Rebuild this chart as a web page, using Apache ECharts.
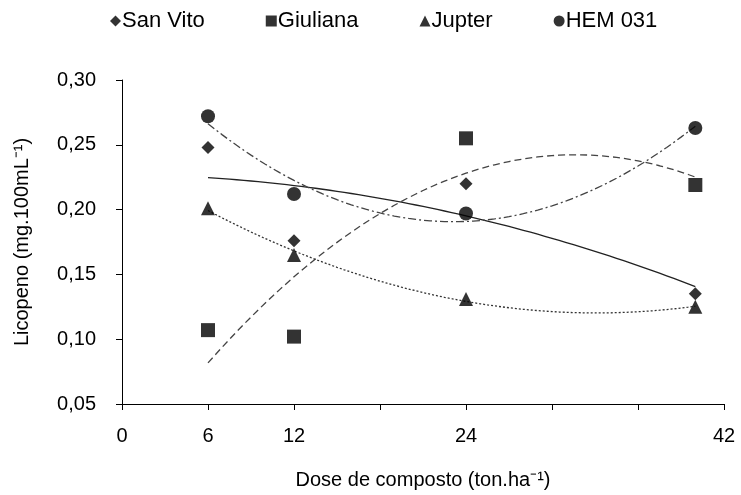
<!DOCTYPE html>
<html>
<head>
<meta charset="utf-8">
<script src="https://cdn.jsdelivr.net/npm/echarts@6/dist/echarts.min.js"></script>
<style>
  html, body { margin: 0; padding: 0; background: #fff; }
  #chart { width: 741px; height: 495px; }
</style>
</head>
<body>
<div id="chart"></div>
<script>
// Compost dose (ton/ha) and lycopene content per cultivar
const doses = [6, 12, 24, 40];
const sanVito = [0.248, 0.176, 0.220, 0.135];
const giuliana = [0.107, 0.102, 0.255, 0.219];
const jupter = [0.201, 0.165, 0.131, 0.125];
const hem031 = [0.272, 0.212, 0.197, 0.263];
const xTickLabels = [0, 6, 12, 24, 42];

// Second-order least-squares trend fitted to each cultivar's points
function quadFit(xs, ys) {
  let n = xs.length, s1 = 0, s2 = 0, s3 = 0, s4 = 0, t0 = 0, t1 = 0, t2 = 0;
  for (let i = 0; i < n; i++) {
    const x = xs[i], y = ys[i];
    s1 += x; s2 += x * x; s3 += x * x * x; s4 += x * x * x * x;
    t0 += y; t1 += x * y; t2 += x * x * y;
  }
  const A = [[n, s1, s2, t0], [s1, s2, s3, t1], [s2, s3, s4, t2]];
  for (let c = 0; c < 3; c++) {
    for (let r = c + 1; r < 3; r++) {
      const f = A[r][c] / A[c][c];
      for (let k = c; k < 4; k++) A[r][k] -= f * A[c][k];
    }
  }
  const coef = [0, 0, 0];
  for (let r = 2; r >= 0; r--) {
    let s = A[r][3];
    for (let k = r + 1; k < 3; k++) s -= A[r][k] * coef[k];
    coef[r] = s / A[r][r];
  }
  return coef;
}
function trend(ys) {
  const c = quadFit(doses, ys);
  const pts = [];
  const x0 = doses[0], x1 = doses[doses.length - 1];
  for (let x = x0; x <= x1 + 1e-9; x += 0.5) pts.push([x, c[0] + c[1] * x + c[2] * x * x]);
  return pts;
}
const pairs = ys => doses.map((d, i) => [d, ys[i]]);

const font = 'Liberation Sans, Arial, sans-serif';
const chart = echarts.init(document.getElementById('chart'), null, { renderer: 'canvas' });

function markSeries(name, ys, symbol, size) {
  return {
    name, type: 'scatter', data: pairs(ys), symbol, symbolSize: size,
    itemStyle: { color: '#000' }, z: 5
  };
}
function trendSeries(ys, dash, color) {
  return {
    type: 'line', data: trend(ys), showSymbol: false, symbol: 'none', silent: true,
    lineStyle: { color, width: 1.3, type: dash }, z: 3
  };
}

chart.setOption({
  animation: false,
  backgroundColor: '#fff',
  textStyle: { fontFamily: font, color: '#000' },
  legend: {
    data: ['San Vito', 'Giuliana', 'Jupter', 'HEM 031'],
    left: 105, top: 5,
    itemWidth: 11, itemHeight: 11, itemGap: 61,
    textStyle: { fontSize: 22, color: '#000', fontFamily: font, padding: [0, 0, 0, -4] }
  },
  grid: { left: 122, right: 17, top: 80, bottom: 90 },
  xAxis: {
    type: 'value', min: 0, max: 42, interval: 6,
    name: 'Dose de composto (ton.ha\u207B\u00B9)',
    nameLocation: 'middle', nameGap: 66,
    nameTextStyle: { fontSize: 20, color: '#000', fontFamily: font },
    axisLine: { lineStyle: { color: '#000', width: 1 } },
    axisTick: { show: true, length: 6, lineStyle: { color: '#000' } },
    axisLabel: {
      fontSize: 20, color: '#000', fontFamily: font, margin: 22,
      formatter: v => xTickLabels.indexOf(v) >= 0 ? String(v) : ''
    },
    splitLine: { show: false }
  },
  yAxis: {
    type: 'value', min: 0.05, max: 0.30, interval: 0.05,
    name: 'Licopeno (mg.100mL\u207B\u00B9)',
    nameLocation: 'middle', nameGap: 90, nameRotate: 90,
    nameTextStyle: { fontSize: 20, color: '#000', fontFamily: font },
    axisLine: { show: true, lineStyle: { color: '#000', width: 1 } },
    axisTick: { show: true, length: 6, lineStyle: { color: '#000' } },
    axisLabel: {
      fontSize: 20, color: '#000', fontFamily: font, margin: 26,
      formatter: v => v.toFixed(2).replace('.', ',')
    },
    splitLine: { show: false }
  },
  series: [
    markSeries('San Vito', sanVito, 'diamond', 13),
    markSeries('Giuliana', giuliana, 'rect', 14),
    markSeries('Jupter', jupter, 'triangle', 14),
    markSeries('HEM 031', hem031, 'circle', 14),
    trendSeries(sanVito, 'solid', '#222'),
    trendSeries(giuliana, [7, 4], '#444'),
    trendSeries(jupter, [2, 2], '#333'),
    trendSeries(hem031, [8, 3, 2, 3], '#444')
  ]
});
</script>
</body>
</html>
